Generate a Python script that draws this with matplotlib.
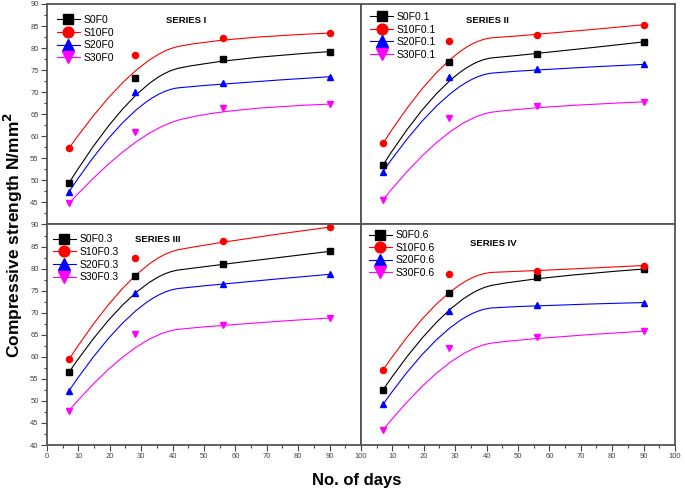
import numpy as np
import matplotlib
matplotlib.use("Agg")
from matplotlib import pyplot as plt
from matplotlib.path import Path
from matplotlib.patches import PathPatch
from matplotlib.lines import Line2D
from matplotlib.ticker import MultipleLocator

plt.rcParams['font.family'] = ['Liberation Sans', 'DejaVu Sans']

# curing age (days)
days = [7, 28, 56, 90]

# compressive strength, N/mm2
s1_f0 = [49.4, 73.3, 77.6, 79.2]
s10_f0 = [57.3, 78.4, 82.4, 83.4]
s20_f0 = [47.4, 70.0, 72.0, 73.5]
s30_f0 = [44.8, 61.0, 66.4, 67.3]

s1_f01 = [53.5, 76.9, 78.7, 81.4]
s10_f01 = [58.4, 81.7, 83.0, 85.3]
s20_f01 = [52.0, 73.5, 75.2, 76.3]
s30_f01 = [45.6, 64.2, 66.8, 67.8]

s1_f03 = [56.5, 78.4, 81.0, 83.9]
s10_f03 = [59.4, 82.4, 86.2, 89.4]
s20_f03 = [52.3, 74.4, 76.6, 78.7]
s30_f03 = [47.8, 65.2, 67.3, 68.8]

s1_f06 = [52.5, 74.4, 78.1, 79.9]
s10_f06 = [57.0, 78.8, 79.5, 80.7]
s20_f06 = [49.2, 70.5, 71.7, 72.3]
s30_f06 = [43.4, 61.9, 64.4, 65.8]

series_titles = ['SERIES I', 'SERIES II', 'SERIES III', 'SERIES IV']
fibre = ['0', '0.1', '0.3', '0.6']
sand = ['S0', 'S10', 'S20', 'S30']

colors = ['black', '#ff0000', '#0000ff', '#ff00ff']
markers = ['s', 'o', '^', 'v']
msizes = [3.8, 4.4, 4.8, 4.8]


def bspline_patch(xs, ys, color):
	# quadratic clamped B-spline through the end points (like Origin's B-Spline line)
	pts = list(zip(xs, ys))
	verts = [pts[0]]
	for i in range(1, len(pts) - 2):
		verts.append(pts[i])
		verts.append(((pts[i][0] + pts[i+1][0]) / 2, (pts[i][1] + pts[i+1][1]) / 2))
	verts.append(pts[-2])
	verts.append(pts[-1])
	codes = [Path.MOVETO] + [Path.CURVE3] * (len(verts) - 1)
	return PathPatch(Path(verts, codes), facecolor='none', edgecolor=color, lw=0.8)


fig, axs = plt.subplots(2, 2, figsize=(6.85, 4.92), dpi=100)
fig.subplots_adjust(left=0.0686, right=0.9854, top=0.9919, bottom=0.0955, wspace=0, hspace=0)

panel_data = [
	[s1_f0, s10_f0, s20_f0, s30_f0],
	[s1_f01, s10_f01, s20_f01, s30_f01],
	[s1_f03, s10_f03, s20_f03, s30_f03],
	[s1_f06, s10_f06, s20_f06, s30_f06],
]
title_pos = [(0.38, 0.924), (0.335, 0.926), (0.28, 0.932), (0.347, 0.914)]
legend_anchor = [(0.032, 0.95), (0.029, 0.964), (0.019, 0.955), (0.025, 0.974)]

for k, ax in enumerate(axs.flat):
	handles = []
	for j in range(4):
		ax.add_patch(bspline_patch(days, panel_data[k][j], colors[j]))
		ax.plot(days, panel_data[k][j], linestyle='none', marker=markers[j],
			color=colors[j], markersize=msizes[j])
		handles.append(Line2D([], [], color=colors[j], lw=0.8, marker=markers[j],
			markersize=msizes[j]))
	labels = [s + 'F' + fibre[k] for s in sand]
	ax.legend(handles, labels, loc='upper left', bbox_to_anchor=legend_anchor[k],
		frameon=False, fontsize=7.5, markerscale=1.75, handlelength=2.2,
		handletextpad=0.35, labelspacing=0.25, borderaxespad=0, borderpad=0)
	ax.text(title_pos[k][0], title_pos[k][1], series_titles[k], transform=ax.transAxes,
		fontsize=6.8, fontweight='bold', va='center', ha='left')

	ax.set_xlim(0, 100)
	ax.set_ylim(40, 90)
	for sp in ax.spines.values():
		sp.set_color('#555555')
		sp.set_linewidth(1.3)

	row, col = divmod(k, 2)
	ax.xaxis.set_major_locator(MultipleLocator(10))
	ax.xaxis.set_minor_locator(MultipleLocator(5))
	ax.yaxis.set_major_locator(MultipleLocator(5))
	ax.yaxis.set_minor_locator(MultipleLocator(2.5))
	ax.tick_params(which='both', direction='out', colors='#444444', labelsize=5.5,
		width=0.8, pad=2)
	ax.tick_params(which='major', length=4)
	ax.tick_params(which='minor', length=2)
	if row == 0:
		ax.tick_params(axis='x', which='both', bottom=False, labelbottom=False)
	if col == 1:
		ax.tick_params(axis='y', which='both', left=False, labelleft=False)

# shared edges: left/bottom labels on the boundary belong to one panel only
axs[0, 0].set_yticks(np.arange(45, 91, 5))
axs[1, 1].set_xticks(np.arange(10, 101, 10))

fig.text(0.019, 0.522, 'Compressive strength N/mm$^\\mathbf{2}$', rotation=90, fontsize=12.5,
	fontweight='bold', ha='center', va='center')
fig.text(0.521, 0.024, 'No. of days', fontsize=12, fontweight='bold', ha='center', va='center')

plt.savefig('out.png', dpi=100)
